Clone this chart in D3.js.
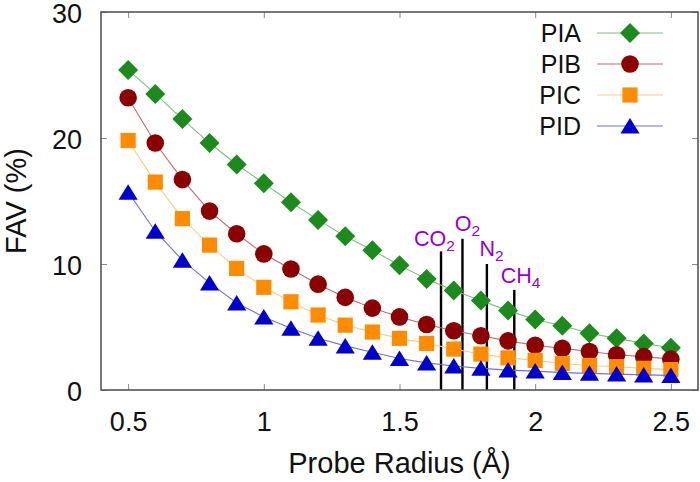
<!DOCTYPE html>
<html>
<head>
<meta charset="utf-8">
<script src="https://cdn.jsdelivr.net/npm/d3@7"></script>
<style>
  html, body { margin: 0; padding: 0; background: #fff; }
  svg { display: block; font-family: "Liberation Sans", Arial, Helvetica, sans-serif; }
</style>
</head>
<body>
<svg id="chart" width="700" height="482"></svg>
<script>
// ---------- data ----------
const radii = [0.5, 0.6, 0.7, 0.8, 0.9, 1.0, 1.1, 1.2, 1.3, 1.4, 1.5, 1.6, 1.7, 1.8, 1.9, 2.0, 2.1, 2.2, 2.3, 2.4, 2.5];
const seriesNames = ["PIA", "PIB", "PIC", "PID"];
const piaValues = [25.4, 23.5, 21.5, 19.6, 17.9, 16.4, 14.9, 13.5, 12.2, 11.1, 9.9, 8.8, 7.9, 7.1, 6.3, 5.6, 5.1, 4.5, 4.1, 3.7, 3.35];
const pibValues = [23.2, 19.6, 16.7, 14.2, 12.4, 10.8, 9.6, 8.4, 7.35, 6.5, 5.8, 5.2, 4.7, 4.3, 3.9, 3.55, 3.3, 3.05, 2.8, 2.65, 2.45];
const picValues = [19.8, 16.5, 13.6, 11.5, 9.65, 8.15, 7.0, 5.95, 5.15, 4.6, 4.1, 3.7, 3.25, 2.85, 2.55, 2.35, 2.1, 1.95, 1.85, 1.72, 1.62];
const pidValues = [15.7, 12.6, 10.3, 8.5, 6.9, 5.8, 4.9, 4.1, 3.5, 3.0, 2.5, 2.15, 1.9, 1.72, 1.58, 1.5, 1.38, 1.32, 1.26, 1.2, 1.16];

const xTicks = [0.5, 1, 1.5, 2, 2.5];
const yTicks = [0, 10, 20, 30];

const gasNames = ["CO", "O", "N", "CH"];
const gasSubs = ["2", "2", "2", "4"];
const gasRadius = [1.653, 1.732, 1.822, 1.923];
const gasLineTop = [11.0, 12.0, 10.0, 7.95];
const gasLabelX = [1.553, 1.704, 1.795, 1.873];
const gasLabelY = [11.45, 12.6, 10.6, 8.5];

// ---------- styles ----------
const colors = ["#1c8a1c", "#8b0000", "#ff8c00", "#0000cd"];
const lineColors = ["#7dbf7d", "#c46a6a", "#ffc98a", "#7070e0"];
const shapes = ["diamond", "circle", "square", "triangle"];
const seriesValues = [piaValues, pibValues, picValues, pidValues];

const svg = d3.select("#chart");
const L = 101, R = 698, T = 12, B = 390;

const x = d3.scaleLinear().domain([0.4, 2.6]).range([L, R]);
const y = d3.scaleLinear().domain([0, 30]).range([B, T]);

function markerPath(shape) {
  if (shape === "diamond") return "M0,-10L10,0L0,10L-10,0Z";
  if (shape === "circle") return d3.symbol(d3.symbolCircle, Math.PI * 8.8 * 8.8)();
  if (shape === "square") return "M-7.6,-7.6H7.6V7.6H-7.6Z";
  return "M0,-8L9.6,7.5L-9.6,7.5Z";
}

// ---------- axes (inward ticks, all four sides) ----------
const tickColor = "#8a8a8a";
const fontSize = 27;

const axB = d3.axisBottom(x).tickValues(xTicks).tickSize(-6).tickFormat(d3.format("~g")).tickPadding(22);
const axT = d3.axisTop(x).tickValues(xTicks).tickSize(-6).tickFormat("");
const axLft = d3.axisLeft(y).tickValues(yTicks).tickSize(-6).tickFormat(d3.format("d")).tickPadding(19);
const axRt = d3.axisRight(y).tickValues(yTicks).tickSize(-6).tickFormat("");

function styleAxis(g) {
  g.select(".domain").remove();
  g.selectAll(".tick line").attr("stroke", tickColor).attr("stroke-width", 1);
  g.selectAll(".tick text").attr("fill", "#111").attr("font-size", fontSize)
    .attr("font-family", "Liberation Sans, Arial, Helvetica, sans-serif");
}
svg.append("g").attr("transform", `translate(0,${B})`).call(axB).call(styleAxis);
svg.append("g").attr("transform", `translate(0,${T})`).call(axT).call(styleAxis);
const gy = svg.append("g").attr("transform", `translate(${L},0)`).call(axLft).call(styleAxis);
gy.selectAll(".tick text").attr("dy", "0.38em");
svg.append("g").attr("transform", `translate(${R},0)`).call(axRt).call(styleAxis);

// ---------- gas lines ----------
const gasG = svg.append("g");
gasRadius.forEach((r, i) => {
  gasG.append("line")
    .attr("x1", x(r)).attr("x2", x(r))
    .attr("y1", y(0)).attr("y2", y(gasLineTop[i]))
    .attr("stroke", "#000").attr("stroke-width", 2.4);
});

// ---------- series ----------
const line = d3.line().x((d, i) => x(radii[i])).y(d => y(d));
seriesValues.forEach((vals, s) => {
  const g = svg.append("g");
  g.append("path").datum(vals).attr("d", line)
    .attr("fill", "none").attr("stroke", lineColors[s]).attr("stroke-width", 1.1);
  g.selectAll("path.pt").data(vals).join("path").attr("class", "pt")
    .attr("transform", (d, i) => `translate(${x(radii[i])},${y(d)})`)
    .attr("d", markerPath(shapes[s]))
    .attr("fill", colors[s]);
});

// ---------- gas labels ----------
gasNames.forEach((n, i) => {
  const t = svg.append("text")
    .attr("x", x(gasLabelX[i])).attr("y", y(gasLabelY[i]))
    .attr("fill", "#9400d3").attr("font-size", 21.5);
  t.append("tspan").text(n);
  t.append("tspan").attr("font-size", 15.5).attr("dy", 5).text(gasSubs[i]);
});

// ---------- frame ----------
svg.append("rect").attr("x", L).attr("y", T).attr("width", R - L).attr("height", B - T)
  .attr("fill", "none").attr("stroke", "#555").attr("stroke-width", 1.6);

// ---------- legend ----------
const legendG = svg.append("g");
seriesNames.forEach((name, i) => {
  const ly = 33 + i * 31;
  legendG.append("text").attr("x", 581).attr("y", ly).attr("dy", "0.36em")
    .attr("text-anchor", "end").attr("font-size", 25).attr("fill", "#111").text(name);
  legendG.append("line").attr("x1", 597).attr("x2", 663).attr("y1", ly).attr("y2", ly)
    .attr("stroke", lineColors[i]).attr("stroke-width", 1.1);
  legendG.append("path").attr("transform", `translate(630,${ly})`)
    .attr("d", markerPath(shapes[i])).attr("fill", colors[i]);
});

// ---------- axis titles ----------
svg.append("text").attr("x", (L + R) / 2).attr("y", 473).attr("text-anchor", "middle")
  .attr("font-size", 29).attr("fill", "#111").text("Probe Radius (Å)");
svg.append("text").attr("transform", `translate(26,${(T + B) / 2}) rotate(-90)`)
  .attr("text-anchor", "middle").attr("font-size", 29).attr("fill", "#111").text("FAV (%)");
</script>
</body>
</html>
